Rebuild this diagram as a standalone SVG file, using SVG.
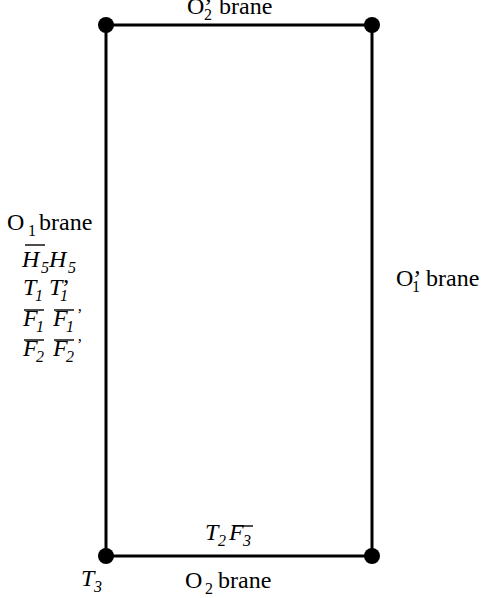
<svg xmlns="http://www.w3.org/2000/svg" width="485" height="598" viewBox="0 0 485 598">
<style>
text{font-family:"Liberation Serif","Tinos","DejaVu Serif","Times New Roman",serif;font-size:24px;fill:#000}
.i{font-style:italic}
.s{font-size:16px}
.ol{stroke:#000;stroke-width:1.4}
.edge{stroke:#000;stroke-width:3;fill:none}
.dot{fill:#000}
</style>
<rect width="485" height="598" fill="#fff"/>
<g id="connectors">
<line class="edge" x1="106" y1="25" x2="372" y2="25"/>
<line class="edge" x1="106" y1="556" x2="372" y2="556"/>
<line class="edge" x1="106" y1="25" x2="106" y2="556"/>
<line class="edge" x1="372" y1="25" x2="372" y2="556"/>
</g>
<g id="node-tl"><circle class="dot" cx="106" cy="25" r="8"/></g>
<g id="node-tr"><circle class="dot" cx="372" cy="25" r="8"/></g>
<g id="node-bl"><circle class="dot" cx="106" cy="556" r="8"/>
<text class="i" x="81" y="586">T<tspan class="s" x="94" y="592">3</tspan></text></g>
<g id="node-br"><circle class="dot" cx="372" cy="556" r="8"/></g>
<g id="label-top">
<text x="187" y="14">O’<tspan class="s" x="204" y="20">2</tspan><tspan x="219" y="14">brane</tspan></text>
</g>
<g id="label-right">
<text x="396" y="286">O’<tspan class="s" x="412" y="292">1</tspan><tspan x="426" y="286">brane</tspan></text>
</g>
<g id="label-bottom">
<text class="i" x="205" y="540">T<tspan class="s" x="218" y="546">2</tspan><tspan x="229" y="540">F</tspan><tspan class="s" x="243" y="546">3</tspan></text>
<line class="ol" x1="233" y1="526" x2="253" y2="526"/>
<text x="185" y="588">O<tspan class="s" x="205" y="594">2</tspan><tspan x="218" y="588">brane</tspan></text>
</g>
<g id="label-left">
<text x="7" y="230">O<tspan class="s" x="28" y="236">1</tspan><tspan x="39" y="230">brane</tspan></text>
<text class="i" x="22" y="267">H<tspan class="s" x="41" y="273">5</tspan><tspan x="49" y="267">H</tspan><tspan class="s" x="68" y="273">5</tspan></text>
<line class="ol" x1="25" y1="245" x2="45" y2="245"/>
<text class="i" x="23" y="295">T<tspan class="s" x="35" y="301">1</tspan><tspan x="49" y="295">T</tspan><tspan class="s" x="60" y="301">1</tspan><tspan style="font-style:normal" x="62" y="295">’</tspan></text>
<text class="i" x="23" y="326">F<tspan class="s" x="36" y="332">1</tspan><tspan x="53" y="326">F</tspan><tspan class="s" x="66" y="332">1</tspan><tspan class="s" style="font-style:normal" x="77" y="320">’</tspan></text>
<line class="ol" x1="24" y1="310" x2="44" y2="310"/>
<line class="ol" x1="54" y1="310" x2="74" y2="310"/>
<text class="i" x="23" y="356">F<tspan class="s" x="36" y="362">2</tspan><tspan x="53" y="356">F</tspan><tspan class="s" x="66" y="362">2</tspan><tspan class="s" style="font-style:normal" x="77" y="350">’</tspan></text>
<line class="ol" x1="24" y1="340" x2="44" y2="340"/>
<line class="ol" x1="54" y1="340" x2="74" y2="340"/>
</g>
</svg>
